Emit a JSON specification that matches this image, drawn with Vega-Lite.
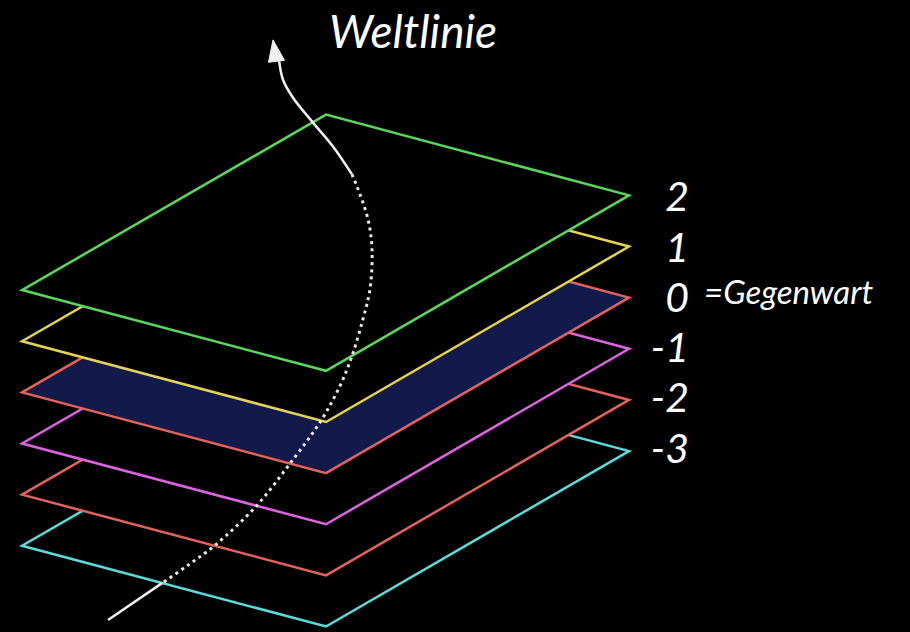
{
  "$schema": "https://vega.github.io/schema/vega-lite/v6.json",
  "width": 910,
  "height": 632,
  "autosize": {"type": "fit", "contains": "padding"},
  "padding": 0,
  "background": "#000000",
  "config": {"view": {"stroke": null}},
  "datasets": {
    "planes": [
      {"p": "2", "o": 0, "x": 22, "y": 291}, {"p": "2", "o": 1, "x": 326, "y": 115}, {"p": "2", "o": 2, "x": 629, "y": 196}, {"p": "2", "o": 3, "x": 326, "y": 372}, {"p": "2", "o": 4, "x": 22, "y": 291}, {"p": "2", "o": 5, "x": 326, "y": 115},
      {"p": "1", "o": 0, "x": 22, "y": 342.3}, {"p": "1", "o": 1, "x": 326, "y": 166.3}, {"p": "1", "o": 2, "x": 629, "y": 247.3}, {"p": "1", "o": 3, "x": 326, "y": 423.3}, {"p": "1", "o": 4, "x": 22, "y": 342.3}, {"p": "1", "o": 5, "x": 326, "y": 166.3},
      {"p": "0", "o": 0, "x": 22, "y": 393.6}, {"p": "0", "o": 1, "x": 326, "y": 217.6}, {"p": "0", "o": 2, "x": 629, "y": 298.6}, {"p": "0", "o": 3, "x": 326, "y": 474.6}, {"p": "0", "o": 4, "x": 22, "y": 393.6}, {"p": "0", "o": 5, "x": 326, "y": 217.6},
      {"p": "-1", "o": 0, "x": 22, "y": 444.9}, {"p": "-1", "o": 1, "x": 326, "y": 268.9}, {"p": "-1", "o": 2, "x": 629, "y": 349.9}, {"p": "-1", "o": 3, "x": 326, "y": 525.9}, {"p": "-1", "o": 4, "x": 22, "y": 444.9}, {"p": "-1", "o": 5, "x": 326, "y": 268.9},
      {"p": "-2", "o": 0, "x": 22, "y": 496.2}, {"p": "-2", "o": 1, "x": 326, "y": 320.2}, {"p": "-2", "o": 2, "x": 629, "y": 401.2}, {"p": "-2", "o": 3, "x": 326, "y": 577.2}, {"p": "-2", "o": 4, "x": 22, "y": 496.2}, {"p": "-2", "o": 5, "x": 326, "y": 320.2},
      {"p": "-3", "o": 0, "x": 22, "y": 547.5}, {"p": "-3", "o": 1, "x": 326, "y": 371.5}, {"p": "-3", "o": 2, "x": 629, "y": 452.5}, {"p": "-3", "o": 3, "x": 326, "y": 628.5}, {"p": "-3", "o": 4, "x": 22, "y": 547.5}, {"p": "-3", "o": 5, "x": 326, "y": 371.5}
    ],
    "solid": [
      {"seg": "top", "o": 0, "x": 352, "y": 175}, {"seg": "top", "o": 1, "x": 333, "y": 147}, {"seg": "top", "o": 2, "x": 313, "y": 123}, {"seg": "top", "o": 3, "x": 293, "y": 98}, {"seg": "top", "o": 4, "x": 283, "y": 80}, {"seg": "top", "o": 5, "x": 279, "y": 60},
      {"seg": "bot", "o": 0, "x": 108, "y": 622}, {"seg": "bot", "o": 1, "x": 162, "y": 585}
    ],
    "dots": [
      {"o": 0, "x": 352, "y": 175}, {"o": 1, "x": 357, "y": 187}, {"o": 2, "x": 368, "y": 220}, {"o": 3, "x": 372, "y": 250}, {"o": 4, "x": 370, "y": 290}, {"o": 5, "x": 363, "y": 320}, {"o": 6, "x": 352, "y": 357}, {"o": 7, "x": 340, "y": 387}, {"o": 8, "x": 321, "y": 422}, {"o": 9, "x": 290, "y": 465}, {"o": 10, "x": 256, "y": 508}, {"o": 11, "x": 215, "y": 547}, {"o": 12, "x": 188, "y": 567}, {"o": 13, "x": 162, "y": 585}
    ],
    "arrow": [
      {"o": 0, "x": 273, "y": 40}, {"o": 1, "x": 284.5, "y": 60.5}, {"o": 2, "x": 268.5, "y": 62.5}, {"o": 3, "x": 273, "y": 40}
    ],
    "nums": [
      {"t": "2", "x": 689, "y": 212}, {"t": "1", "x": 689, "y": 262.4}, {"t": "0", "x": 689, "y": 312.8}, {"t": "-1", "x": 689, "y": 363.2}, {"t": "-2", "x": 689, "y": 413.6}, {"t": "-3", "x": 689, "y": 464}
    ],
    "title": [{"t": "Weltlinie", "x": 329, "y": 48}],
    "note": [{"t": "=Gegenwart", "x": 704, "y": 305}]
  },
  "encoding": {
    "x": {"field": "x", "type": "quantitative", "scale": {"domain": [0, 910], "nice": false, "zero": false}, "axis": null},
    "y": {"field": "y", "type": "quantitative", "scale": {"domain": [0, 632], "reverse": true, "nice": false, "zero": false}, "axis": null}
  },
  "layer": [
    {"data": {"name": "planes"}, "transform": [{"filter": "datum.p === '-3'"}], "mark": {"type": "line", "stroke": "#58dcdc", "fill": "#000000", "strokeWidth": 2.5, "strokeJoin": "miter"}, "encoding": {"order": {"field": "o", "type": "quantitative"}}},
    {"data": {"name": "planes"}, "transform": [{"filter": "datum.p === '-2'"}], "mark": {"type": "line", "stroke": "#e4625a", "fill": "#000000", "strokeWidth": 2.5, "strokeJoin": "miter"}, "encoding": {"order": {"field": "o", "type": "quantitative"}}},
    {"data": {"name": "planes"}, "transform": [{"filter": "datum.p === '-1'"}], "mark": {"type": "line", "stroke": "#e062e4", "fill": "#000000", "strokeWidth": 2.5, "strokeJoin": "miter"}, "encoding": {"order": {"field": "o", "type": "quantitative"}}},
    {"data": {"name": "planes"}, "transform": [{"filter": "datum.p === '0'"}], "mark": {"type": "line", "stroke": "#e4625a", "fill": "#111a4a", "strokeWidth": 2.5, "strokeJoin": "miter"}, "encoding": {"order": {"field": "o", "type": "quantitative"}}},
    {"data": {"name": "planes"}, "transform": [{"filter": "datum.p === '1'"}], "mark": {"type": "line", "stroke": "#e6d44e", "fill": "#000000", "strokeWidth": 2.5, "strokeJoin": "miter"}, "encoding": {"order": {"field": "o", "type": "quantitative"}}},
    {"data": {"name": "planes"}, "transform": [{"filter": "datum.p === '2'"}], "mark": {"type": "line", "stroke": "#58d858", "fill": "#000000", "strokeWidth": 2.5, "strokeJoin": "miter"}, "encoding": {"order": {"field": "o", "type": "quantitative"}}},
    {"data": {"name": "dots"}, "mark": {"type": "line", "stroke": "#e8e8e8", "strokeWidth": 3, "strokeDash": [3, 4], "interpolate": "catmull-rom"}, "encoding": {"order": {"field": "o", "type": "quantitative"}}},
    {"data": {"name": "solid"}, "mark": {"type": "line", "stroke": "#f0f0f0", "strokeWidth": 2.5, "interpolate": "catmull-rom"}, "encoding": {"order": {"field": "o", "type": "quantitative"}, "detail": {"field": "seg", "type": "nominal"}}},
    {"data": {"name": "arrow"}, "mark": {"type": "line", "stroke": "#f0f0f0", "fill": "#f0f0f0", "strokeWidth": 1}, "encoding": {"order": {"field": "o", "type": "quantitative"}}},
    {"data": {"name": "nums"}, "mark": {"type": "text", "color": "#ffffff", "font": "Lato", "fontStyle": "italic", "fontSize": 41, "align": "right", "baseline": "alphabetic"}, "encoding": {"text": {"field": "t"}}},
    {"data": {"name": "title"}, "mark": {"type": "text", "color": "#ffffff", "font": "Lato", "fontStyle": "italic", "fontSize": 46, "align": "left", "baseline": "alphabetic"}, "encoding": {"text": {"field": "t"}}},
    {"data": {"name": "note"}, "mark": {"type": "text", "color": "#ffffff", "font": "Lato", "fontStyle": "italic", "fontSize": 33, "align": "left", "baseline": "alphabetic"}, "encoding": {"text": {"field": "t"}}}
  ]
}
